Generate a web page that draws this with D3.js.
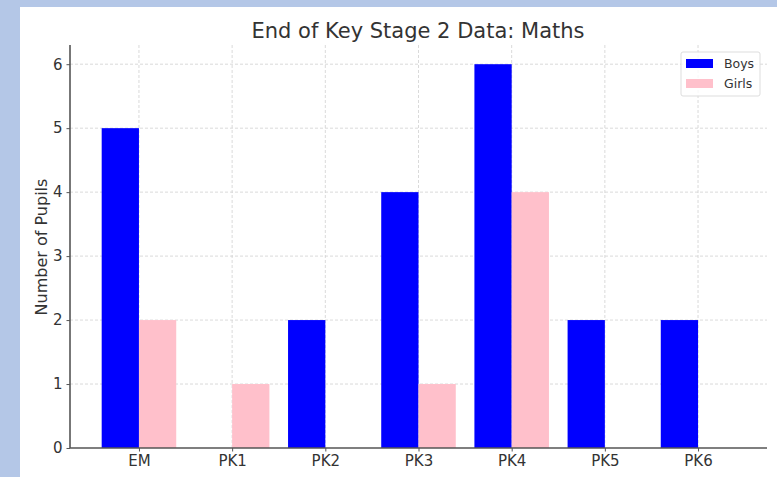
<html>
<head>
  <title>End of Key Stage 2 Data: Maths</title>
  <style>
    body { margin: 0; background: #b4c7e7; }
    svg { display: block; }
    .tick text { font-family: "DejaVu Sans", sans-serif; font-size: 15px; fill: #333; }
    .grid line { stroke: #d0d0d0; stroke-dasharray: 3,2; stroke-width: 0.8; }
  </style>
</head>
<body>
<div id="chart"></div>
<script src="https://d3js.org/d3.v7.min.js"></script>
<script>
  var categories = ["EM", "PK1", "PK2", "PK3", "PK4", "PK5", "PK6"];
  var boys = [5, 0, 2, 4, 6, 2, 2];
  var girls = [2, 1, 0, 1, 4, 0, 0];
  var yTicks = [0, 1, 2, 3, 4, 5, 6];

  var width = 777, height = 477;
  var plotLeft = 70, plotRight = 767, plotTop = 45, plotBottom = 448;
  var barW = 0.4;

  var svg = d3.select("#chart").append("svg")
      .attr("width", width)
      .attr("height", height);

  // white panel on the blue page
  svg.append("rect")
     .attr("x", 20).attr("y", 7)
     .attr("width", width - 20).attr("height", height - 7)
     .attr("fill", "white");

  var x = d3.scaleLinear().domain([-0.74, 6.74]).range([plotLeft, plotRight]);
  var y = d3.scaleLinear().domain([0, 6.3]).range([plotBottom, plotTop]);

  // grid
  svg.append("g").attr("class", "grid")
     .selectAll("line").data(yTicks.slice(1)).enter().append("line")
     .attr("x1", plotLeft).attr("x2", plotRight)
     .attr("y1", function(d){ return y(d); })
     .attr("y2", function(d){ return y(d); });

  svg.append("g").attr("class", "grid")
     .selectAll("line").data(categories).enter().append("line")
     .attr("x1", function(d, i){ return x(i); })
     .attr("x2", function(d, i){ return x(i); })
     .attr("y1", plotTop).attr("y2", plotBottom);

  // bars
  svg.append("g").selectAll("rect").data(boys).enter().append("rect")
     .attr("x", function(d, i){ return x(i - barW); })
     .attr("width", function(d, i){ return x(i) - x(i - barW); })
     .attr("y", function(d){ return y(d); })
     .attr("height", function(d){ return y(0) - y(d); })
     .attr("fill", "#0000ff");

  svg.append("g").selectAll("rect").data(girls).enter().append("rect")
     .attr("x", function(d, i){ return x(i); })
     .attr("width", function(d, i){ return x(i + barW) - x(i); })
     .attr("y", function(d){ return y(d); })
     .attr("height", function(d){ return y(0) - y(d); })
     .attr("fill", "#ffc0cb");

  // axes
  var yAxis = svg.append("g")
     .attr("transform", "translate(" + plotLeft + ",0)")
     .call(d3.axisLeft(y).tickValues(yTicks).tickFormat(d3.format("d")).tickSize(3.5).tickPadding(4));

  var xAxis = svg.append("g")
     .attr("transform", "translate(0," + plotBottom + ")")
     .call(d3.axisBottom(x).tickValues(d3.range(categories.length))
           .tickFormat(function(i){ return categories[i]; }).tickSize(3.5).tickPadding(4));

  [yAxis, xAxis].forEach(function(ax){
    ax.select(".domain").attr("stroke", "#555").attr("stroke-width", 1.6);
    ax.selectAll(".tick line").attr("stroke", "#555");
  });
  yAxis.select(".domain").attr("d", "M0," + plotTop + "V" + plotBottom);
  xAxis.select(".domain").attr("d", "M" + plotLeft + ",0H" + plotRight);

  // title + label
  svg.append("text")
     .attr("x", 418).attr("y", 38)
     .attr("text-anchor", "middle")
     .style("font-family", "DejaVu Sans, sans-serif")
     .style("font-size", "21px")
     .attr("fill", "#333")
     .text("End of Key Stage 2 Data: Maths");

  svg.append("text")
     .attr("transform", "translate(47,247) rotate(-90)")
     .attr("text-anchor", "middle")
     .style("font-family", "DejaVu Sans, sans-serif")
     .style("font-size", "16px")
     .attr("fill", "#333")
     .text("Number of Pupils");

  // legend
  var legend = svg.append("g").attr("transform", "translate(681,52)");
  legend.append("rect")
     .attr("width", 79).attr("height", 44).attr("rx", 2)
     .attr("fill", "white").attr("fill-opacity", 0.8)
     .attr("stroke", "#ddd");
  var series = [["Boys", "#0000ff"], ["Girls", "#ffc0cb"]];
  legend.selectAll(".item").data(series).enter().append("g")
     .attr("transform", function(d, i){ return "translate(5," + (7 + i * 20) + ")"; })
     .each(function(d){
       d3.select(this).append("rect").attr("width", 27).attr("height", 9).attr("fill", d[1]);
       d3.select(this).append("text").attr("x", 38).attr("y", 9)
         .style("font-family", "DejaVu Sans, sans-serif")
         .style("font-size", "12.5px")
         .attr("fill", "#333")
         .text(d[0]);
     });
</script>
</body>
</html>
